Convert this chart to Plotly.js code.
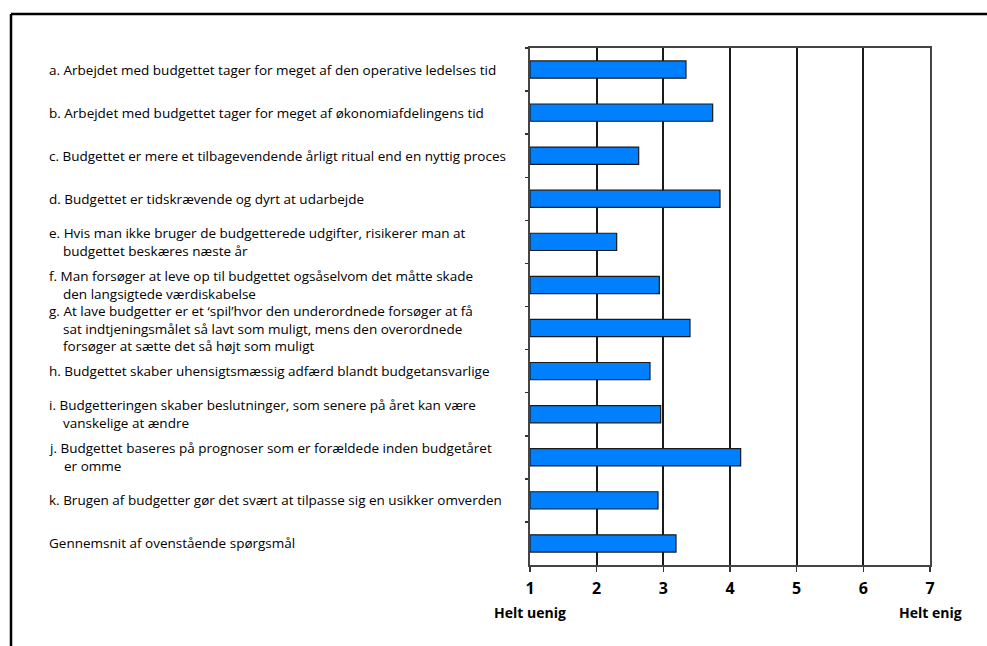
<!DOCTYPE html>
<html>
<head>
<meta charset="utf-8">
<script src="https://cdn.plot.ly/plotly-3.0.1.min.js"></script>
<style>html,body{margin:0;padding:0;background:#fff;}#chart{width:987px;height:646px;}</style>
</head>
<body>
<div id="chart"></div>
<script>
const categories = ["a","b","c","d","e","f","g","h","i","j","k","avg"];
const labels = [
  "a. Arbejdet med budgettet tager for meget af den operative ledelses tid",
  "b. Arbejdet med budgettet tager for meget af økonomiafdelingens tid",
  "c. Budgettet er mere et tilbagevendende årligt ritual end en nyttig proces",
  "d. Budgettet er tidskrævende og dyrt at udarbejde",
  "e. Hvis man ikke bruger de budgetterede udgifter, risikerer man at<br>    budgettet beskæres næste år",
  "f. Man forsøger at leve op til budgettet ogsåselvom det måtte skade<br>    den langsigtede værdiskabelse",
  "g. At lave budgetter er et ‘spil’hvor den underordnede forsøger at få<br>    sat indtjeningsmålet så lavt som muligt, mens den overordnede<br>    forsøger at sætte det så højt som muligt",
  "h. Budgettet skaber uhensigtsmæssig adfærd blandt budgetansvarlige",
  "i. Budgetteringen skaber beslutninger, som senere på året kan være<br>    vanskelige at ændre",
  "j. Budgettet baseres på prognoser som er forældede inden budgetåret<br>    er omme",
  "k. Brugen af budgetter gør det svært at tilpasse sig en usikker omverden",
  "Gennemsnit af ovenstående spørgsmål"
];
const values = [3.34, 3.74, 2.63, 3.85, 2.30, 2.94, 3.40, 2.80, 2.96, 4.16, 2.92, 3.19];
const xTicks = [1,2,3,4,5,6,7];
const scaleLabels = ["Helt uenig", "Helt enig"];

const font = "Open Sans, sans-serif";
const annotations = labels.map((t, i) => ({
  text: t.replace(/ {4}/g, "&nbsp;&nbsp;&nbsp;&nbsp;"),
  xref: "paper", yref: "y",
  x: (47 - 530) / 400, y: categories[i],
  xanchor: "left", yanchor: "middle", align: "left",
  showarrow: false,
  font: {family: font, size: 13.5, color: "#000"}
}));
annotations.push({
  text: scaleLabels[0], xref: "x", yref: "paper", x: 1, y: (565 - 612) / 517,
  xanchor: "center", yanchor: "middle", showarrow: false,
  font: {family: font, size: 14, color: "#000", weight: "bold"}
});
annotations.push({
  text: scaleLabels[1], xref: "x", yref: "paper", x: 7, y: (565 - 612) / 517,
  xanchor: "center", yanchor: "middle", showarrow: false,
  font: {family: font, size: 14, color: "#000", weight: "bold"}
});

const trace = {
  type: "bar", orientation: "h",
  x: values.map(v => v - 1), y: categories,
  base: 1,
  width: 0.4,
  marker: {color: "#0080ff", line: {color: "#1a1a1a", width: 1.2}},
  hoverinfo: "x"
};

const layout = {
  width: 987, height: 646,
  margin: {l: 530, r: 57, t: 48, b: 81},
  paper_bgcolor: "#fff", plot_bgcolor: "#fff",
  showlegend: false,
  xaxis: {
    range: [1, 7], tickvals: xTicks, ticktext: xTicks.map(String),
    showgrid: true, gridcolor: "#1a1a1a", gridwidth: 2,
    zeroline: false,
    showline: true, linecolor: "#444", linewidth: 2, mirror: true,
    ticks: "outside", ticklen: 5, tickcolor: "#333", tickwidth: 1.5,
    ticklabelstandoff: 3,
    tickfont: {family: font, size: 16, color: "#000", weight: "bold"},
    fixedrange: true
  },
  yaxis: {
    type: "category", autorange: "reversed",
    categoryorder: "array", categoryarray: categories,
    showticklabels: false,
    showgrid: false, zeroline: false,
    showline: true, linecolor: "#444", linewidth: 2, mirror: true,
    ticks: "outside", tickson: "boundaries", ticklen: 3, tickcolor: "#333", tickwidth: 1.5,
    fixedrange: true
  },
  annotations: annotations,
  shapes: [
    {type: "line", xref: "paper", yref: "paper", x0: (11 - 530) / 400, x1: (990 - 530) / 400,
     y0: (565 - 14) / 517, y1: (565 - 14) / 517, line: {color: "#000", width: 2.5}},
    {type: "line", xref: "paper", yref: "paper", x0: (11 - 530) / 400, x1: (11 - 530) / 400,
     y0: (565 - 14) / 517, y1: (565 - 650) / 517, line: {color: "#000", width: 2.5}}
  ]
};

Plotly.newPlot("chart", [trace], layout, {displayModeBar: false, staticPlot: true});
</script>
</body>
</html>
